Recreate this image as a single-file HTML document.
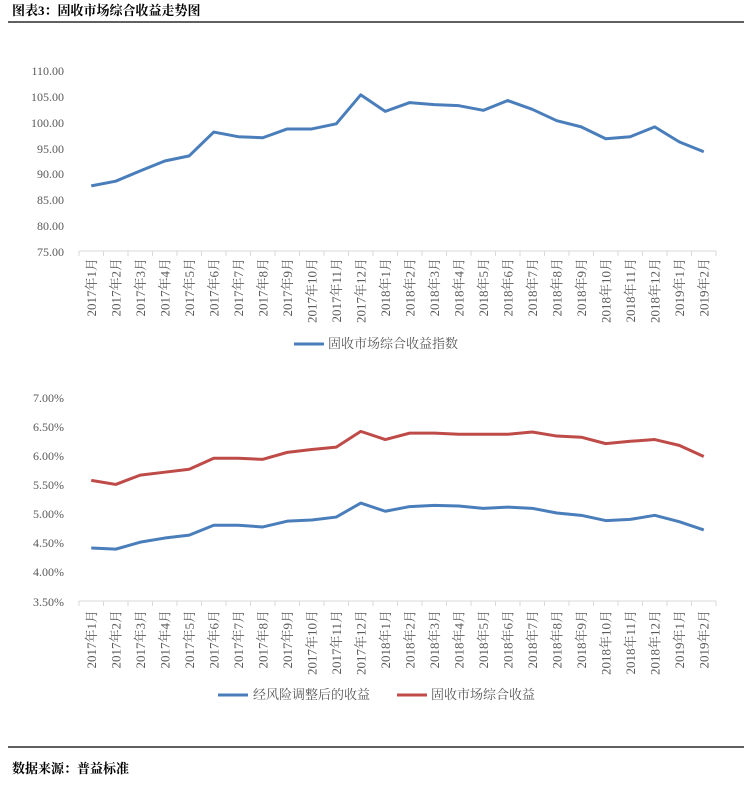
<!DOCTYPE html>
<html><head><meta charset="utf-8"><style>
body{margin:0;background:#fff;width:744px;height:786px;overflow:hidden}
svg{display:block}
.t{font-family:"Liberation Serif","Noto Serif CJK SC",serif;font-size:12px;fill:#595959}
.c{font-size:13px}
.h{font-family:"Liberation Serif","Noto Serif CJK SC",serif;font-size:13px;font-weight:bold;fill:#000}
</style></head><body>
<svg id="s" width="744" height="786" xmlns="http://www.w3.org/2000/svg">
<text class="h" x="12" y="15">图表3：固收市场综合收益走势图</text>
<line x1="8" y1="22" x2="744" y2="22" stroke="#000" stroke-width="1.2"/>
<g class="t" text-anchor="end">
<text x="64" y="75">110.00</text><text x="64" y="101">105.00</text><text x="64" y="127">100.00</text><text x="64" y="153">95.00</text><text x="64" y="178">90.00</text><text x="64" y="204">85.00</text><text x="64" y="230">80.00</text><text x="64" y="256">75.00</text>
<text x="64" y="402">7.00%</text><text x="64" y="431">6.50%</text><text x="64" y="460">6.00%</text><text x="64" y="489">5.50%</text><text x="64" y="518">5.00%</text><text x="64" y="547">4.50%</text><text x="64" y="576">4.00%</text><text x="64" y="606">3.50%</text>
</g>
<line x1="79" y1="251" x2="716" y2="251" stroke="#d9d9d9"/>
<line x1="79" y1="601" x2="716" y2="601" stroke="#d9d9d9"/>
<g id="ticks" stroke="#d9d9d9"></g>
<g id="lab1" class="t c" text-anchor="end"></g>
<g id="lab2" class="t c" text-anchor="end"></g>
<polyline id="p1" fill="none" stroke="#4a7ebb" stroke-width="3" stroke-linejoin="round"/>
<polyline id="p2" fill="none" stroke="#4a7ebb" stroke-width="3" stroke-linejoin="round"/>
<polyline id="p3" fill="none" stroke="#be4b48" stroke-width="3" stroke-linejoin="round"/>
<line x1="294" y1="344" x2="324" y2="344" stroke="#4a7ebb" stroke-width="3"/>
<text class="t c" x="328" y="348">固收市场综合收益指数</text>
<line x1="218" y1="695" x2="248" y2="695" stroke="#4a7ebb" stroke-width="3"/>
<text class="t c" x="253" y="699">经风险调整后的收益</text>
<line x1="397" y1="695" x2="427" y2="695" stroke="#be4b48" stroke-width="3"/>
<text class="t c" x="431" y="699">固收市场综合收益</text>
<line x1="8" y1="747" x2="744" y2="747" stroke="#000" stroke-width="1.2"/>
<text class="h" x="12" y="773">数据来源：普益标准</text>
</svg>
<div style="display:none" id="labels">2017年1月|2017年2月|2017年3月|2017年4月|2017年5月|2017年6月|2017年7月|2017年8月|2017年9月|2017年10月|2017年11月|2017年12月|2018年1月|2018年2月|2018年3月|2018年4月|2018年5月|2018年6月|2018年7月|2018年8月|2018年9月|2018年10月|2018年11月|2018年12月|2019年1月|2019年2月</div>
<script>
var L=document.getElementById('labels').textContent.split('|');
var ns='http://www.w3.org/2000/svg';
var a=[87.6,88.5,90.5,92.4,93.4,98.0,97.1,96.9,98.6,98.6,99.6,105.2,102.0,103.7,103.3,103.1,102.2,104.1,102.4,100.2,99.0,96.7,97.1,99.0,96.1,94.2];
var r=[5.57,5.50,5.66,5.71,5.76,5.95,5.95,5.93,6.05,6.10,6.14,6.41,6.27,6.38,6.38,6.36,6.36,6.36,6.40,6.33,6.31,6.20,6.24,6.27,6.17,5.98];
var b=[4.41,4.39,4.51,4.58,4.63,4.80,4.80,4.77,4.87,4.89,4.94,5.18,5.04,5.12,5.14,5.13,5.09,5.11,5.09,5.01,4.97,4.88,4.90,4.97,4.86,4.72];
function X(i){return 91.25+24.5*i}
var p1='',p2='',p3='';
for(var i=0;i<26;i++){
 p1+=X(i)+','+(251-(a[i]-75)*181/35)+' ';
 p2+=X(i)+','+(601-(b[i]-3.5)*204/3.5)+' ';
 p3+=X(i)+','+(601-(r[i]-3.5)*204/3.5)+' ';
 [['lab1',258],['lab2',610]].forEach(function(q){
  var t=document.createElementNS(ns,'text');t.textContent=L[i];
  t.setAttribute('transform','translate('+(X(i)+4.5)+','+q[1]+') rotate(-90)');
  document.getElementById(q[0]).appendChild(t);});
}
for(var i=0;i<=26;i++){var x=79+24.5*i;
 document.getElementById('ticks').innerHTML+='<line x1="'+x+'" y1="251" x2="'+x+'" y2="256"/><line x1="'+x+'" y1="601" x2="'+x+'" y2="606"/>';}
document.getElementById('p1').setAttribute('points',p1);
document.getElementById('p2').setAttribute('points',p2);
document.getElementById('p3').setAttribute('points',p3);
</script>
</body></html>
